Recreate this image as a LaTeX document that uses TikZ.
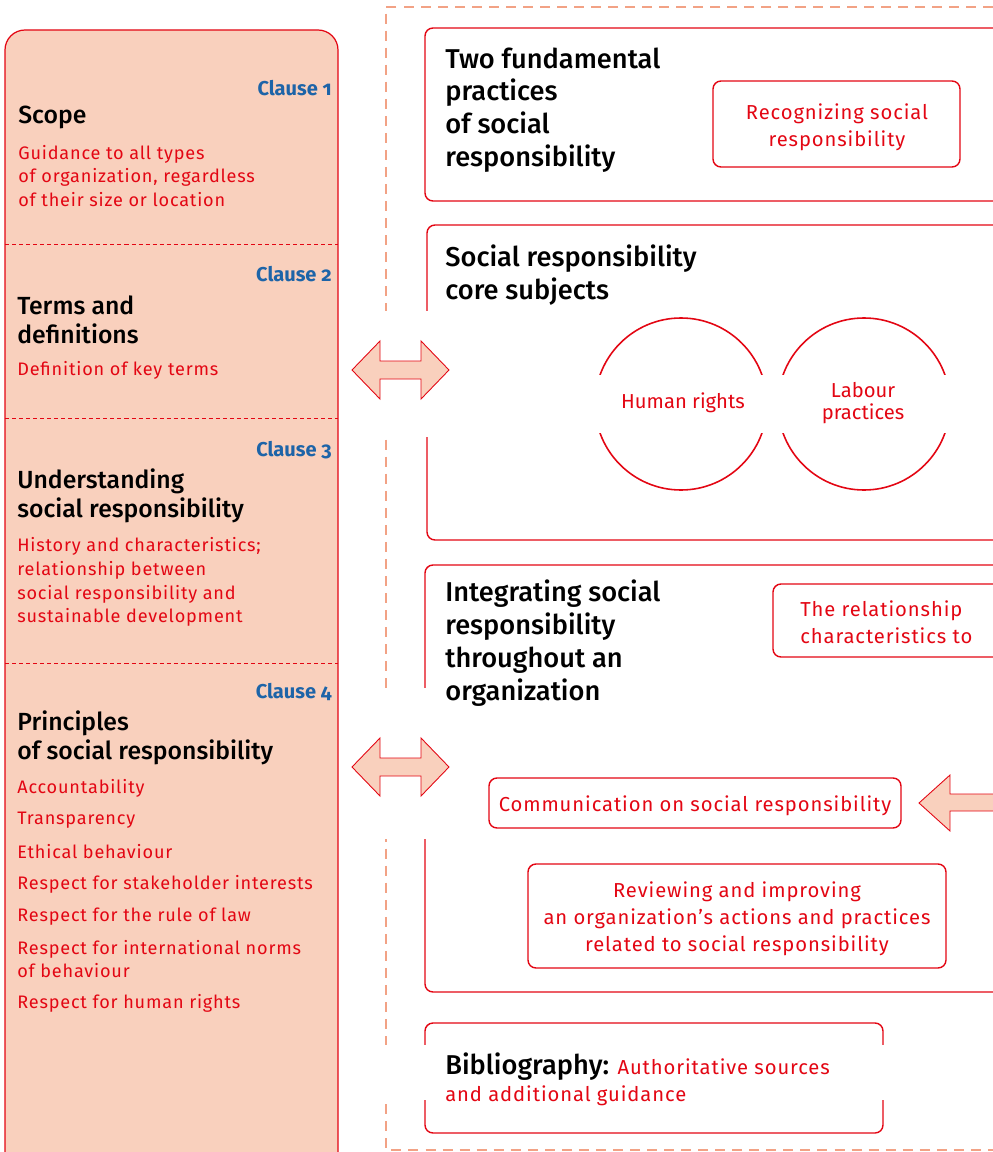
\documentclass[tikz,border=0pt]{standalone}
\usepackage{fontspec}
\setmainfont{Fira Sans}[Numbers=OldStyle]
\newfontfamily\headfont{Fira Sans Medium}[Numbers=OldStyle]
\newfontfamily\redfont{Fira Sans}[Numbers=OldStyle, LetterSpace=4.5]
\usepackage{tikz}

\definecolor{isored}{HTML}{E30613}
\definecolor{isosalmon}{HTML}{F9D0BD}
\definecolor{isodash}{HTML}{F2A285}
\definecolor{isoblue}{HTML}{1D64A8}

\tikzset{
  panel/.style={draw=isored, fill=isosalmon, line width=0.7pt, rounded corners=0.4cm},
  sepline/.style={draw=isored, line width=0.5pt, dash pattern=on 2.3pt off 1.7pt},
  frame/.style={draw=isodash, line width=1.4pt, dash pattern=on 5.7pt off 4pt},
  box/.style={draw=isored, line width=0.8pt, rounded corners=0.16cm},
  gap/.style={fill=white, draw=none},
  bigarrow/.style={draw=isored, fill=isosalmon, line width=0.5pt},
  clause/.style={anchor=east, inner sep=0pt, text=isoblue, font=\fontsize{11.4}{13}\selectfont\bfseries},
  lhead/.style={anchor=west, inner sep=0pt, align=left, font=\headfont\fontsize{14.1}{16.4}\selectfont},
  rhead/.style={anchor=west, inner sep=0pt, align=left, font=\headfont\fontsize{15.5}{18.7}\selectfont},
  ltext/.style={anchor=west, inner sep=0pt, align=left, text=isored, font=\redfont\fontsize{10.3}{13.6}\selectfont},
  rtext/.style={inner sep=0pt, align=center, text=isored, font=\redfont\fontsize{11.5}{15.3}\selectfont}
}

\begin{document}
\begin{tikzpicture}[x=0.02cm, y=-0.02cm]
\useasboundingbox (0,0) rectangle (993,1152);
\clip (0,0) rectangle (993,1152);

% left column
\draw[panel] (5,30) rectangle (338,1220);
\draw[sepline] (5,244) -- (338,244);
\draw[sepline] (5,418) -- (338,418);
\draw[sepline] (5,663) -- (338,663);

% right frame and boxes
\draw[frame] (1010,7) -- (386,7) -- (386,1150) -- (1010,1150);
\draw[box] (425,28) rectangle (1012,201);
\draw[box] (713,81) rectangle (960,167);
\draw[box] (427,225) rectangle (1012,540);
\draw[isored, line width=0.9pt] (681,404) circle (86);
\draw[isored, line width=0.9pt] (864,404) circle (86);
\draw[box] (425,565) rectangle (1012,992);
\draw[box] (773,584) rectangle (1012,657);
\draw[box] (489,778) rectangle (901,828);
\draw[box] (528,864) rectangle (946,968);
\draw[box] (425,1023) rectangle (883,1133);

% white cut-outs
\fill[gap] (378,311) rectangle (436,437);
\fill[gap] (378,688) rectangle (436,839);
\fill[gap] (590,375) rectangle (960,433);
\fill[gap] (378,1045) rectangle (892,1100);

% block arrows
\draw[bigarrow] (352,370) -- (380,341) -- (380,361) -- (421,361) -- (421,341) -- (449,370)
  -- (421,399) -- (421,379) -- (380,379) -- (380,399) -- cycle;
\draw[bigarrow] (352,767) -- (380,738) -- (380,758) -- (421,758) -- (421,738) -- (449,767)
  -- (421,796) -- (421,776) -- (380,776) -- (380,796) -- cycle;
\draw[bigarrow] (919,803) -- (950,775) -- (950,794) -- (1010,794) -- (1010,811) -- (950,811)
  -- (950,831) -- cycle;

% clause 1
\node[clause] (c1) at (332,88) {Clause 1};
\node[lhead] (scope) at (18,117) {Scope};
\node[ltext] (scopetxt) at (18,176) {Guidance to all types\\of organization, regardless\\of their size or location};

% clause 2
\node[clause] (c2) at (332,274) {Clause 2};
\node[lhead] (terms) at (17,320) {Terms and\\definitions};
\node[ltext] (termstxt) at (17,370) {Definition of key terms};

% clause 3
\node[clause] (c3) at (332,450) {Clause 3};
\node[lhead] (underst) at (17,496) {Understanding\\social responsibility};
\node[ltext] (understtxt) at (17,582) {History and characteristics;\\relationship between\\social responsibility and\\sustainable development};

% clause 4
\node[clause] (c4) at (332,692) {Clause 4};
\node[lhead] (princ) at (17,738) {Principles\\of social responsibility};
\node[ltext] (p1) at (17,788) {Accountability};
\node[ltext] (p2) at (17,820) {Transparency};
\node[ltext] (p3) at (17,852) {Ethical behaviour};
\node[ltext] (p4) at (17,884) {Respect for stakeholder interests};
\node[ltext] (p5) at (17,917) {Respect for the rule of law};
\node[ltext] (p6) at (17,959) {Respect for international norms\\of behaviour};
\node[ltext] (p7) at (17,1003) {Respect for human rights};

% right side
\node[rhead] (twofund) at (445,110) {Two fundamental\\practices\\of social\\responsibility};
\node[rtext] (recog) at (837,127) {Recognizing social\\responsibility};
\node[rhead] (core) at (445,275) {Social responsibility\\core subjects};
\node[rtext, font=\fontsize{11.5}{12.5}\selectfont] (human) at (683,403) {Human rights};
\node[rtext, font=\fontsize{11.5}{12.5}\selectfont] (labour) at (863,403) {Labour\\practices};
\node[rhead] (integr) at (445,643) {Integrating social\\responsibility\\throughout an\\organization};
\node[rtext, anchor=west, align=left] (relat) at (800,622) {The relationship\\characteristics to};
\node[rtext] (comm) at (695,806) {Communication on social responsibility};
\node[rtext] (review) at (737,919) {Reviewing and improving\\an organization’s actions and practices\\related to social responsibility};
\node[rtext, anchor=west, align=left] (biblio) at (445,1079)
  {{\headfont\fontsize{15.5}{18.7}\selectfont\color{black}Bibliography:} Authoritative sources\\and additional guidance};
\end{tikzpicture}
\end{document}
